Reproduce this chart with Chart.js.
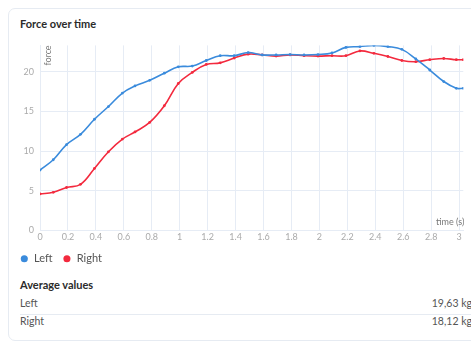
<!DOCTYPE html>
<html>
<head>
<meta charset="utf-8">
<script src="https://cdn.jsdelivr.net/npm/chart.js@4/dist/chart.umd.min.js"></script>
<style>
  html, body { margin: 0; padding: 0; background: #fff; width: 471px; height: 347px; overflow: hidden; }
  body { position: relative; font-family: Lato, "Noto Sans", sans-serif; }
  .card {
    position: absolute; left: 8px; top: 8px; width: 490px; height: 333px;
    border: 1px solid #e6ebf2; border-radius: 7px; box-sizing: border-box;
  }
  .title { position: absolute; left: 11px; top: 8px; font-size: 11px; font-weight: bold; color: #2b2b2b; }
  #chartBox { position: absolute; left: 10px; top: 33.6px; width: 470px; height: 240.2px; }
  .avg { position: absolute; left: 11px; top: 269px; width: 452px; font-size: 10.5px; color: #555; }
  .avg h4 { margin: 0 0 4px 0; font-size: 11px; line-height: 13px; color: #2b2b2b; }
  .row { display: flex; justify-content: space-between; }
  .row.first { height: 19px; line-height: 16px; border-bottom: 1px solid #e6ebf2; }
  .row.second { line-height: 12px; }
</style>
</head>
<body>
<div class="card">
  <div class="title">Force over time</div>
  <div class="avg">
    <h4>Average values</h4>
    <div class="row first"><span>Left</span><span id="avgLeft"></span></div>
    <div class="row second"><span>Right</span><span id="avgRight"></span></div>
  </div>
</div>
<div id="chartBox"><canvas id="chart"></canvas></div>
<script>
const times = [0, 0.095, 0.19, 0.29, 0.39, 0.49, 0.59, 0.68, 0.785, 0.89, 0.99, 1.09, 1.19, 1.29, 1.39, 1.49,
  1.59, 1.69, 1.79, 1.89, 1.99, 2.09, 2.19, 2.29, 2.39, 2.49, 2.59, 2.69, 2.79, 2.89, 2.98, 3.03];
const leftForce = [7.6, 8.9, 10.8, 12.1, 14.0, 15.6, 17.3, 18.2, 18.9, 19.8, 20.6, 20.7, 21.4, 22.0, 22.0, 22.4,
  22.1, 22.1, 22.15, 22.1, 22.15, 22.35, 23.05, 23.15, 23.3, 23.15, 22.8, 21.6, 20.2, 18.75, 17.9, 17.9];
const rightForce = [4.6, 4.8, 5.4, 5.8, 7.8, 9.9, 11.5, 12.4, 13.6, 15.7, 18.5, 19.9, 20.9, 21.1, 21.7, 22.2,
  22.1, 21.95, 22.1, 22.0, 21.95, 22.0, 22.0, 22.6, 22.3, 21.9, 21.4, 21.25, 21.5, 21.65, 21.5, 21.5];
const seriesNames = ['Left', 'Right'];
const averages = ['19,63 kg', '18,12 kg'];

document.getElementById('avgLeft').textContent = averages[0];
document.getElementById('avgRight').textContent = averages[1];

const blue = '#3a8bdc';
const red = '#f32a3e';

// axis names are drawn inside the plot area, like the original
const axisTitles = {
  id: 'axisTitles',
  afterDraw(chart) {
    const {ctx, chartArea} = chart;
    ctx.save();
    ctx.fillStyle = '#777';
    ctx.font = '9px Lato, sans-serif';
    ctx.textAlign = 'right';
    ctx.textBaseline = 'middle';
    ctx.fillText('time (s)', chartArea.right + 1, chartArea.bottom - 8);
    ctx.translate(chartArea.left + 8, chartArea.top);
    ctx.rotate(-Math.PI / 2);
    ctx.fillText('force', 0, 0);
    ctx.restore();
  }
};

const toPoints = vals => vals.map((v, i) => ({x: times[i], y: v}));

new Chart(document.getElementById('chart'), {
  type: 'line',
  data: {
    datasets: [
      {label: seriesNames[0], data: toPoints(leftForce), borderColor: blue, backgroundColor: blue},
      {label: seriesNames[1], data: toPoints(rightForce), borderColor: red, backgroundColor: red}
    ]
  },
  options: {
    responsive: true,
    maintainAspectRatio: false,
    animation: false,
    layout: {padding: {top: 4, right: 16.7, left: 0, bottom: 0}},
    elements: {
      line: {borderWidth: 1.6, tension: 0.4},
      point: {radius: 1.4, borderWidth: 0, pointStyle: 'circle'}
    },
    scales: {
      x: {
        type: 'linear', min: 0, max: 3.03,
        grid: {color: '#e6ecf5', drawTicks: false},
        border: {color: '#e6ecf5'},
        ticks: {stepSize: 0.2, includeBounds: false, padding: 1, color: '#aaa', font: {size: 9, family: 'Lato'},
          maxRotation: 0, autoSkip: false, callback: v => String(+v.toFixed(1))}
      },
      y: {
        min: 0, max: 23.3,
        afterFit(scale) { scale.width = 30; },
        grid: {color: '#e6ecf5', drawTicks: false},
        border: {color: '#e6ecf5'},
        ticks: {stepSize: 5, includeBounds: false, padding: 6, color: '#aaa', font: {size: 9, family: 'Lato'}}
      }
    },
    plugins: {
      tooltip: {enabled: false},
      legend: {
        position: 'bottom',
        align: 'start',
        labels: {
          usePointStyle: true, boxWidth: 8.6, boxHeight: 5, padding: 10,
          color: '#555', font: {size: 11, family: 'Lato', lineHeight: 1},
          generateLabels(chart) {
            return Chart.defaults.plugins.legend.labels.generateLabels(chart).map(l => ({...l, lineWidth: 0}));
          }
        }
      }
    }
  },
  plugins: [axisTitles]
});
</script>
</body>
</html>
